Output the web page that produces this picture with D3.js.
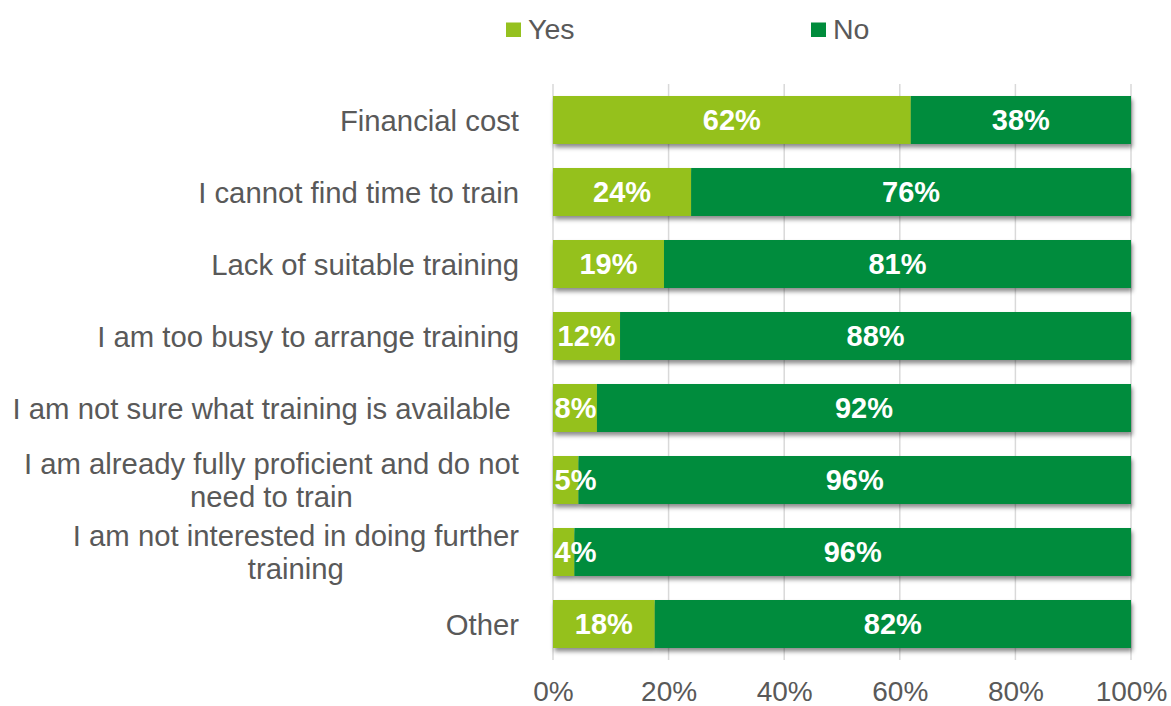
<!DOCTYPE html>
<html>
<head>
<meta charset="utf-8">
<script src="https://cdn.jsdelivr.net/npm/d3@7"></script>
<style>
  html, body { margin: 0; padding: 0; background: #fff; }
  svg text { font-family: "Liberation Sans", Arial, sans-serif; }
</style>
</head>
<body>
<svg id="chart" width="1171" height="706"></svg>
<script>
// ---- data ----
const categories = [
  "Financial cost",
  "I cannot find time to train",
  "Lack of suitable training",
  "I am too busy to arrange training",
  "I am not sure what training is available ",
  "I am already fully proficient and do not need to train",
  "I am not interested in doing further training",
  "Other"
];
const categoryLines = [
  ["Financial cost"],
  ["I cannot find time to train"],
  ["Lack of suitable training"],
  ["I am too busy to arrange training"],
  ["I am not sure what training is available "],
  ["I am already fully proficient and do not", "need to train"],
  ["I am not interested in doing further", "training"],
  ["Other"]
];
const yesValues = [61.9, 23.9, 19.2, 11.6, 7.6, 4.4, 3.7, 17.6];
const noValues  = [38.1, 76.1, 80.8, 88.4, 92.4, 95.6, 96.3, 82.4];
const yesLabels = ["62%", "24%", "19%", "12%", "8%", "5%", "4%", "18%"];
const noLabels  = ["38%", "76%", "81%", "88%", "92%", "96%", "96%", "82%"];
const seriesNames = ["Yes", "No"];
const tickValues = [0, 20, 40, 60, 80, 100];
const tickLabels = ["0%", "20%", "40%", "60%", "80%", "100%"];

// ---- layout ----
const colors = { Yes: "#95C11F", No: "#008C3C" };
const textColor = "#595959";
const plot = { left: 553, right: 1131, top: 84, bottom: 660 };

const svg = d3.select("#chart");

const defs = svg.append("defs");
const f = defs.append("filter").attr("id", "shadow")
  .attr("x", "-5%").attr("y", "-20%").attr("width", "110%").attr("height", "160%");
f.append("feDropShadow").attr("dx", 1.5).attr("dy", 3.5).attr("stdDeviation", 2.2)
  .attr("flood-color", "#000").attr("flood-opacity", 0.45);

const x = d3.scaleLinear().domain([0, 100]).range([plot.left, plot.right]);
const y = d3.scaleBand().domain(categories).range([plot.top, plot.bottom])
  .paddingInner(1/3).paddingOuter(1/6);

// gridlines
svg.append("g").selectAll("line").data(tickValues).join("line")
  .attr("x1", d => x(d)).attr("x2", d => x(d))
  .attr("y1", plot.top).attr("y2", plot.bottom)
  .attr("stroke", "#D9D9D9").attr("stroke-width", 1.5);

// x axis labels
const xAxis = d3.axisBottom(x).tickValues(tickValues)
  .tickFormat((d, i) => tickLabels[i]).tickSize(0).tickPadding(0);
const gx = svg.append("g").attr("transform", `translate(0,${plot.bottom})`).call(xAxis);
gx.select(".domain").remove();
gx.selectAll("text")
  .attr("y", 0).attr("dy", null)
  .attr("transform", "translate(0,40.5)")
  .attr("fill", textColor).style("font-size", "28px")
  .style("font-family", '"Liberation Sans", Arial, sans-serif');

// stacked data
const rows = categories.map((c, i) => ({ cat: c, Yes: yesValues[i], No: noValues[i], i }));
const stack = d3.stack().keys(seriesNames);
const stacked = stack(rows);

const barsG = svg.append("g").attr("filter", "url(#shadow)");
stacked.forEach(layer => {
  barsG.append("g").selectAll("rect").data(layer).join("rect")
    .attr("x", d => x(d[0]))
    .attr("width", d => x(d[1]) - x(d[0]))
    .attr("y", d => y(d.data.cat))
    .attr("height", y.bandwidth())
    .attr("fill", colors[layer.key]);
});

// value labels
const labelsG = svg.append("g");
stacked.forEach(layer => {
  const labs = layer.key === "Yes" ? yesLabels : noLabels;
  labelsG.selectAll(null).data(layer).join("text")
    .attr("y", d => y(d.data.cat) + y.bandwidth() / 2)
    .attr("dy", "0.36em")
    .attr("text-anchor", "middle")
    .attr("fill", "#fff")
    .style("font-size", "29px").style("font-weight", "bold")
    .text(d => labs[d.data.i])
    .each(function(d) {
      const w = this.getComputedTextLength();
      let cx = (x(d[0]) + x(d[1])) / 2;
      cx = Math.max(cx, plot.left + w / 2 + 1.5);
      d3.select(this).attr("x", cx);
    });
});

// category labels
const catG = svg.append("g");
const lineH = 33;
categories.forEach((c, i) => {
  const lines = categoryLines[i];
  const cy = y(c) + y.bandwidth() / 2;
  const t = catG.append("text")
    .attr("fill", textColor).style("font-size", "29.3px")
    .style("white-space", "pre");
  const tsp = lines.map((ln, j) => t.append("tspan")
    .attr("y", cy + (j - (lines.length - 1) / 2) * lineH)
    .attr("dy", "0.36em").text(ln));
  // right-align the block, center lines within it
  const widths = tsp.map(s => s.node().getComputedTextLength());
  const maxW = d3.max(widths);
  const right = 519;
  const center = right - maxW / 2;
  tsp.forEach(s => s.attr("x", center).attr("text-anchor", "middle"));
});

// legend
const legend = [
  { key: "Yes", sx: 506, tx: 528 },
  { key: "No", sx: 811, tx: 833 }
];
const lg = svg.append("g");
lg.selectAll("rect").data(legend).join("rect")
  .attr("x", d => d.sx).attr("y", 22.5).attr("width", 15).attr("height", 14.5)
  .attr("fill", d => colors[d.key]);
lg.selectAll("text").data(legend).join("text")
  .attr("x", d => d.tx).attr("y", 38.5)
  .attr("fill", textColor).style("font-size", "28.5px")
  .text(d => d.key);
</script>
</body>
</html>
